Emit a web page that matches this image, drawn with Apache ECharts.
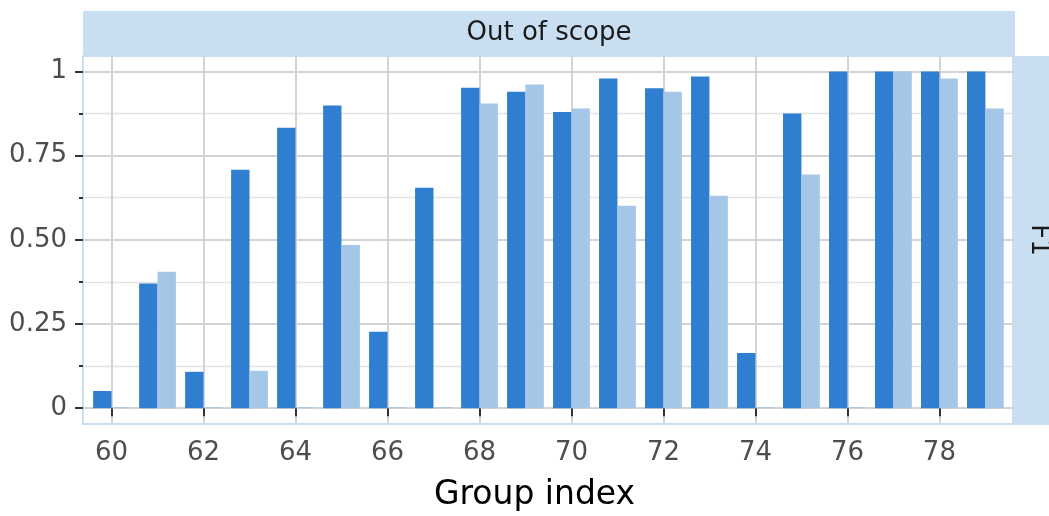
<!DOCTYPE html>
<html>
<head>
<meta charset="utf-8">
<script src="https://cdn.jsdelivr.net/npm/echarts@6/dist/echarts.min.js"></script>
<style>html,body{margin:0;padding:0;background:#fff}#c{width:1049px;height:516px}</style>
</head>
<body>
<div id="c"></div>
<script>
// ---- data ----
var groups = [60,61,62,63,64,65,66,67,68,69,70,71,72,73,74,75,76,77,78,79];
var darkValues = [0.051,0.370,0.108,0.708,0.833,0.899,0.227,0.655,0.952,0.940,0.880,0.979,0.950,0.985,0.164,0.875,1.000,1.000,1.000,1.000];
var lightValues = [0,0.405,0,0.111,0,0.485,0,0,0.905,0.961,0.890,0.601,0.940,0.631,0,0.694,0,1.000,0.979,0.890];
var xTickValues = [60,62,64,66,68,70,72,74,76,78];
var yTickValues = [0,0.25,0.5,0.75,1];
var yTickLabels = ['0','0.25','0.50','0.75','1'];
var yMinorValues = [0.125,0.375,0.625,0.875];
var stripTop = 'Out of scope';
var stripRight = 'F1';
var xTitle = 'Group index';

var FONT = 'DejaVu Sans';
var STRIP = '#c9def0';

function pairs(vals){ return groups.map(function(g,i){ return [g, vals[i]]; }); }

var chart = echarts.init(document.getElementById('c'), null, {renderer:'canvas'});
var option = {
  animation: false,
  backgroundColor: '#ffffff',
  textStyle: {fontFamily: FONT},
  grid: {left: 83, right: 36, top: 56, bottom: 92, show: true, backgroundColor: '#ffffff', borderColor: STRIP, borderWidth: 2},
  xAxis: [{
    type: 'value', min: 59.38, max: 79.6,
    axisLine: {show: false},
    axisTick: {show: true, length: 8, lineStyle: {color: '#333333', width: 2}, customValues: xTickValues},
    axisLabel: {color: '#4d4d4d', fontSize: 26, fontFamily: FONT, margin: 16, customValues: xTickValues},
    splitLine: {show: true, lineStyle: {color: '#d4d4d4', width: 2}}
  }],
  yAxis: [{
    type: 'value', min: -0.047, max: 1.046,
    axisLine: {show: false},
    axisTick: {show: true, length: 8, lineStyle: {color: '#333333', width: 2}, customValues: yTickValues},
    axisLabel: {color: '#4d4d4d', fontSize: 26, fontFamily: FONT, margin: 16, customValues: yTickValues,
      formatter: function(v){ var i = yTickValues.indexOf(v); return i >= 0 ? yTickLabels[i] : ''; }},
    splitLine: {show: true, lineStyle: {color: '#d4d4d4', width: 2}}
  },{
    type: 'value', min: -0.047, max: 1.046, position: 'left',
    axisLine: {show: false},
    axisTick: {show: true, length: 4, lineStyle: {color: '#333333', width: 2}, customValues: yMinorValues},
    axisLabel: {show: false, customValues: yMinorValues},
    splitLine: {show: true, lineStyle: {color: '#e2e2e2', width: 1.3}}
  }],
  series: [{
    type: 'bar', name: 'dark', data: pairs(darkValues), barWidth: 18.4, barGap: '0%',
    itemStyle: {color: '#2f7ecf'}, z: 3
  },{
    type: 'bar', name: 'light', data: pairs(lightValues), barWidth: 18.4, barGap: '0%', barMinHeight: 1,
    itemStyle: {color: '#a4c7e8'}, z: 3
  }],
  graphic: [
    {type: 'rect', left: 83, top: 11, shape: {width: 932, height: 45}, style: {fill: STRIP}, z: 10},
    {type: 'text', x: 549, y: 33, style: {text: stripTop, fill: '#1a1a1a', font: '26px "DejaVu Sans"', textAlign: 'center', textVerticalAlign: 'middle'}, z: 11},
    {type: 'rect', left: 1013, top: 56, shape: {width: 36, height: 369}, style: {fill: STRIP}, z: 10},
    {type: 'text', x: 1039, y: 240, rotation: -Math.PI/2, style: {text: stripRight, fill: '#1a1a1a', font: '26px "DejaVu Sans"', textAlign: 'center', textVerticalAlign: 'middle'}, z: 11},
    {type: 'text', x: 534.5, y: 495, style: {text: xTitle, fill: '#000000', font: '33px "DejaVu Sans"', textAlign: 'center', textVerticalAlign: 'middle'}, z: 11}
  ]
};
chart.setOption(option);
</script>
</body>
</html>
